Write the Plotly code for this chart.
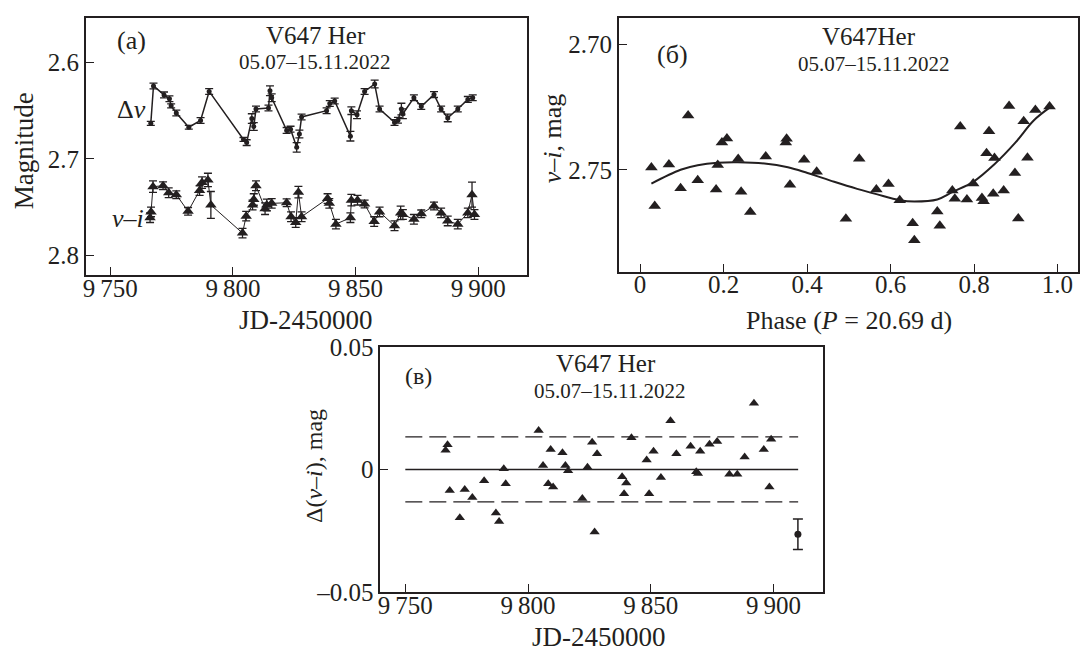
import plotly.graph_objects as go

# ---- panel (a): light curves ----
dv_jd = [9766.5, 9767.6, 9771.9, 9774.1, 9774.8, 9776.9, 9782.0, 9786.8, 9790.3, 9804.3,
         9805.6, 9807.7, 9808.5, 9809.4, 9814.5, 9815.1, 9815.8, 9821.9, 9823.5, 9826.0,
         9827.1, 9828.0, 9838.2, 9839.5, 9841.5, 9847.9, 9848.3, 9850.6, 9853.7, 9857.8,
         9859.8, 9865.9, 9867.3, 9868.7, 9869.3, 9873.8, 9876.8, 9882.0, 9884.9, 9887.6,
         9891.7, 9895.8, 9897.8]
dv_mag = [2.6631, 2.6242, 2.6335, 2.6375, 2.6449, 2.6524, 2.6671, 2.6601, 2.6299, 2.6798,
          2.6831, 2.6581, 2.6664, 2.6482, 2.6472, 2.6292, 2.6365, 2.6704, 2.6691, 2.6880,
          2.6741, 2.6564, 2.6499, 2.6425, 2.6399, 2.6764, 2.6499, 2.6541, 2.6299, 2.6222,
          2.6482, 2.6621, 2.6598, 2.6482, 2.6531, 2.6365, 2.6455, 2.6332, 2.6482, 2.6574,
          2.6482, 2.6382, 2.6365]
dv_err = [0.002, 0.003, 0.003, 0.003, 0.002, 0.003, 0.002, 0.003, 0.003, 0.002,
          0.003, 0.005, 0.004, 0.003, 0.003, 0.005, 0.004, 0.003, 0.003, 0.005,
          0.004, 0.003, 0.003, 0.003, 0.003, 0.005, 0.004, 0.004, 0.003, 0.004,
          0.003, 0.003, 0.003, 0.006, 0.005, 0.003, 0.003, 0.003, 0.003, 0.004,
          0.003, 0.003, 0.003]

vi_jd = [9766.2, 9766.6, 9767.4, 9771.5, 9773.8, 9776.9, 9781.7, 9786.4, 9787.4, 9789.8,
         9791.0, 9803.9, 9805.4, 9808.0, 9808.5, 9809.4, 9813.1, 9813.8, 9815.8, 9821.9,
         9823.7, 9825.6, 9826.7, 9828.0, 9838.6, 9839.3, 9842.0, 9847.9, 9848.3, 9850.8,
         9853.7, 9857.6, 9859.8, 9865.9, 9868.4, 9869.3, 9873.8, 9876.8, 9882.0, 9884.9,
         9887.6, 9891.7, 9895.8, 9897.5, 9898.5]
vi_mag = [2.7611, 2.7551, 2.7289, 2.7279, 2.7352, 2.7372, 2.7545, 2.7329, 2.7246, 2.7219,
          2.7479, 2.7771, 2.7595, 2.7479, 2.7422, 2.7279, 2.7518, 2.7479, 2.7462, 2.7456,
          2.7601, 2.7661, 2.7346, 2.7601, 2.7412, 2.7462, 2.7678, 2.7611, 2.7429, 2.7429,
          2.7469, 2.7651, 2.7551, 2.7695, 2.7561, 2.7578, 2.7628, 2.7571, 2.7489, 2.7561,
          2.7645, 2.7678, 2.7561, 2.7372, 2.7578]
vi_err = [0.005, 0.005, 0.006, 0.004, 0.005, 0.004, 0.004, 0.005, 0.006, 0.007,
          0.014, 0.005, 0.005, 0.005, 0.006, 0.005, 0.006, 0.006, 0.005, 0.004,
          0.005, 0.005, 0.006, 0.005, 0.005, 0.005, 0.005, 0.005, 0.006, 0.005,
          0.004, 0.005, 0.005, 0.005, 0.007, 0.005, 0.005, 0.004, 0.004, 0.005,
          0.005, 0.005, 0.005, 0.013, 0.005]

# ---- panel (б): phase diagram ----
ph = [0.027, 0.035, 0.069, 0.097, 0.115, 0.138, 0.182, 0.186, 0.196, 0.208,
      0.235, 0.242, 0.264, 0.301, 0.349, 0.351, 0.359, 0.393, 0.423, 0.493,
      0.525, 0.566, 0.595, 0.622, 0.653, 0.657, 0.712, 0.718, 0.748, 0.754,
      0.767, 0.783, 0.798, 0.819, 0.823, 0.830, 0.836, 0.849, 0.846, 0.871,
      0.884, 0.898, 0.906, 0.919, 0.928, 0.947, 0.981]
ph_vi = [2.7491, 2.7644, 2.7479, 2.7574, 2.7284, 2.7542, 2.7579, 2.7481, 2.7392, 2.7376,
         2.7457, 2.7587, 2.7668, 2.7447, 2.7392, 2.7377, 2.7560, 2.7460, 2.7508, 2.7695,
         2.7456, 2.7579, 2.7557, 2.7621, 2.7713, 2.7780, 2.7666, 2.7723, 2.7583, 2.7615,
         2.7328, 2.7618, 2.7555, 2.7612, 2.7625, 2.7434, 2.7347, 2.7453, 2.7595, 2.7583,
         2.7246, 2.7513, 2.7694, 2.7307, 2.7452, 2.7262, 2.7248]
fit_ph = [0.027, 0.097, 0.138, 0.186, 0.234, 0.298, 0.354, 0.401, 0.465, 0.52,
          0.566, 0.622, 0.657, 0.712, 0.748, 0.799, 0.847, 0.899, 0.943, 0.981]
fit_vi = [2.7555, 2.7500, 2.7482, 2.7472, 2.7470, 2.7475, 2.7490, 2.7513, 2.7548, 2.7576,
          2.7597, 2.7621, 2.7626, 2.7618, 2.7589, 2.7547, 2.7481, 2.7392, 2.7304, 2.7253]

# ---- panel (в): residuals ----
res_jd = [9767.2, 9766.4, 9768.1, 9772.2, 9774.2, 9777.3, 9782.1, 9786.9, 9788.2, 9790.1,
          9790.9, 9804.3, 9806.1, 9808.2, 9809.2, 9810.2, 9814.0, 9815.2, 9816.3, 9822.1,
          9824.2, 9826.1, 9827.1, 9828.1, 9838.3, 9840.0, 9839.1, 9842.1, 9848.3, 9849.3,
          9851.1, 9854.1, 9858.0, 9860.4, 9866.2, 9868.5, 9869.2, 9870.1, 9873.9, 9877.0,
          9882.0, 9885.2, 9888.2, 9892.0, 9896.0, 9898.3, 9899.0]
res_val = [0.0101, 0.0078, -0.0086, -0.0197, -0.0082, -0.0115, -0.0046, -0.0178, -0.0213, 0.0003,
           -0.0059, 0.0159, 0.0016, -0.0059, 0.0081, -0.0072, 0.0068, 0.0016, -0.0006, -0.0119,
           0.0009, 0.0111, -0.0256, 0.0064, -0.0030, -0.0056, -0.0099, 0.0129, 0.0038, -0.0099,
           0.0074, -0.0033, 0.0199, 0.0064, 0.0094, -0.0010, -0.0017, 0.0074, 0.0103, 0.0114,
           -0.0020, -0.0020, 0.0051, 0.0270, 0.0081, -0.0072, 0.0123]
line_jd = [9750, 9910]
sigma = 0.0133
err_jd = [9909.9]
err_val = [-0.0265]
err_size = [0.0062]

C = "#231f20"
FONT = "Liberation Serif"

fig = go.Figure()

# panel (a)
fig.add_trace(go.Scatter(x=dv_jd, y=dv_mag, mode="lines+markers", xaxis="x", yaxis="y",
                         line=dict(color=C, width=1.5), marker=dict(color=C, size=5),
                         error_y=dict(type="data", array=dv_err, color=C, thickness=1.3, width=4)))
fig.add_trace(go.Scatter(x=vi_jd, y=vi_mag, mode="lines+markers", xaxis="x", yaxis="y",
                         line=dict(color=C, width=1),
                         marker=dict(symbol="triangle-up", color=C, size=10),
                         error_y=dict(type="data", array=vi_err, color=C, thickness=1.3, width=4)))

# panel (б)
fig.add_trace(go.Scatter(x=ph, y=ph_vi, mode="markers", xaxis="x2", yaxis="y2",
                         marker=dict(symbol="triangle-up", color=C, size=11)))
fig.add_trace(go.Scatter(x=fit_ph, y=fit_vi, mode="lines", xaxis="x2", yaxis="y2",
                         line=dict(color=C, width=2, shape="spline")))

# panel (в)
fig.add_trace(go.Scatter(x=line_jd, y=[0, 0], mode="lines", xaxis="x3", yaxis="y3",
                         line=dict(color=C, width=1.5)))
for lev in (sigma, -sigma):
    fig.add_trace(go.Scatter(x=line_jd, y=[lev, lev], mode="lines", xaxis="x3", yaxis="y3",
                             line=dict(color=C, width=1.3, dash="17px,7px")))
fig.add_trace(go.Scatter(x=res_jd, y=res_val, mode="markers", xaxis="x3", yaxis="y3",
                         marker=dict(symbol="triangle-up", color=C, size=9)))
fig.add_trace(go.Scatter(x=err_jd, y=err_val, mode="markers", xaxis="x3", yaxis="y3",
                         marker=dict(color=C, size=7),
                         error_y=dict(type="data", array=err_size, color=C, thickness=1.5, width=5)))

tickfont = dict(family=FONT, size=25, color=C)
common = dict(showline=True, mirror=True, linecolor=C, linewidth=1.5, ticks="inside",
              ticklen=8, tickwidth=1.3, tickcolor=C, showgrid=False, zeroline=False,
              tickfont=tickfont, fixedrange=True)

jd_vals = [9750, 9800, 9850, 9900]
jd_text = ["9\u2009750", "9\u2009800", "9\u2009850", "9\u2009900"]

fig.update_layout(
    width=1080, height=667, margin=dict(l=0, r=0, t=0, b=0),
    paper_bgcolor="white", plot_bgcolor="white", showlegend=False,
    xaxis=dict(domain=[0.0769, 0.4867], range=[9740, 9920], anchor="y",
               tickvals=jd_vals, ticktext=jd_text, ticklabelstandoff=-10, **common),
    yaxis=dict(domain=[0.5907, 0.9925], range=[2.8206, 2.5534], anchor="x",
               tickvals=[2.6, 2.7, 2.8], ticktext=["2.6", "2.7", "2.8"], **common),
    xaxis2=dict(domain=[0.5718, 0.9981], range=[-0.051, 1.049], anchor="y2",
                tickvals=[0, 0.2, 0.4, 0.6, 0.8, 1.0], ticktext=["0", "0.2", "0.4", "0.6", "0.8", "1.0"],
                ticklabelstandoff=-10, **common),
    yaxis2=dict(domain=[0.5960, 0.9915], range=[2.7905, 2.6898], anchor="x2",
                tickvals=[2.70, 2.75], ticktext=["2.70", "2.75"], **common),
    xaxis3=dict(domain=[0.3503, 0.7611], range=[9739.8, 9920], anchor="y3",
                tickvals=jd_vals, ticktext=jd_text, ticklabelstandoff=-10, **common),
    yaxis3=dict(domain=[0.0955, 0.4783], range=[-0.05, 0.05], anchor="x3",
                tickvals=[-0.05, 0, 0.05], ticktext=["\u20130.05", "0", "0.05"], **common),
)


def note(text, px, py, size=25, angle=0):
    fig.add_annotation(text=text, x=px / 1080, y=1 - py / 667, xref="paper", yref="paper",
                       showarrow=False, textangle=angle, xanchor="center", yanchor="middle",
                       font=dict(family=FONT, size=size, color=C))


# panel (a) texts
note("Magnitude", 21, 143, size=27, angle=-90)
note("JD-2450000", 304, 320, size=27)
note("(a)", 129, 29, size=26)
note("V647 Her", 314, 23, size=25)
note("05.07\u201315.11.2022", 312, 51, size=21)
note("\u0394<i>v</i>", 129, 101, size=26)
note("<i>v</i>\u2013<i>i</i>", 125, 214, size=26)

# panel (б) texts
note("<i>v</i>\u2013<i>i</i>, mag", 551, 130, size=26, angle=-90)
note("Phase (<i>P</i> = 20.69 d)", 848, 320, size=26)
note("(\u0431)", 671, 43, size=26)
note("V647Her", 868, 25, size=25)
note("05.07\u201315.11.2022", 873, 53, size=21)

# panel (в) texts
note("\u0394(<i>v</i>\u2013<i>i</i>), mag", 312, 472, size=24, angle=-90)
note("JD-2450000", 598, 650, size=27)
note("(\u0432)", 417, 378, size=24)
note("V647 Her", 605, 365, size=25)
note("05.07\u201315.11.2022", 608, 394, size=21)

fig.write_html("out.html", config={"displayModeBar": False},
               post_script="document.body.style.margin='0';document.body.style.overflow='hidden';")
